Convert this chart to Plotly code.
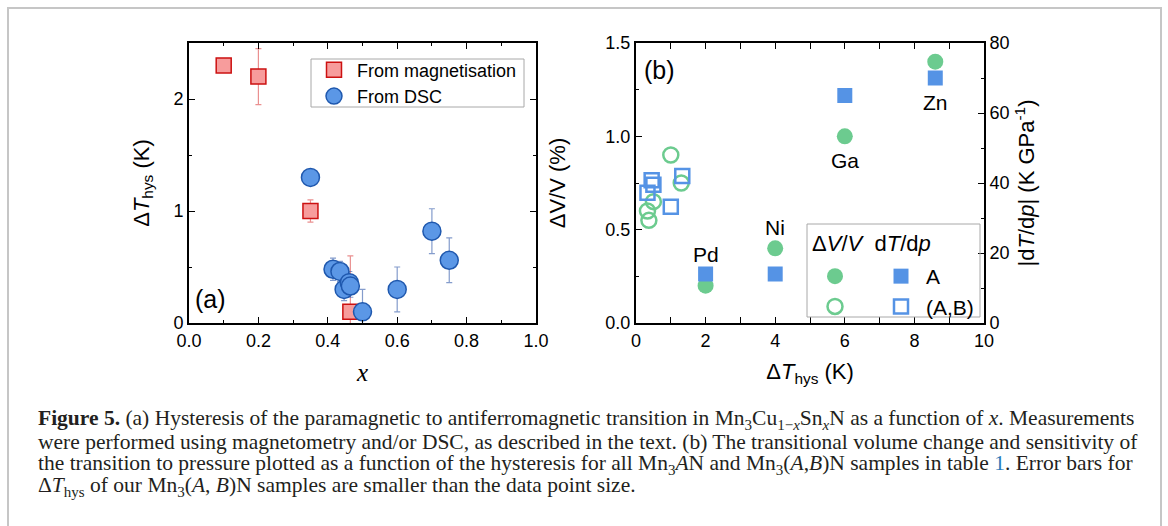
import plotly.graph_objects as go

W, H = 1168, 526
def px(x):
    return x / W
def py(y):
    return 1 - y / H

# ---------------- Panel (a) data ----------------
mag_x = [0.10, 0.20, 0.35, 0.465]
mag_y = [2.30, 2.20, 1.00, 0.10]
mag_err = [0.03, 0.25, 0.10, 0.50]

dsc_x = [0.35, 0.415, 0.435, 0.447, 0.462, 0.465, 0.50, 0.60, 0.70, 0.75]
dsc_y = [1.30, 0.48, 0.46, 0.30, 0.36, 0.33, 0.10, 0.30, 0.82, 0.56]
dsc_err = [0.0, 0.10, 0.09, 0.10, 0.10, 0.10, 0.20, 0.20, 0.20, 0.20]

# ---------------- Panel (b) data ----------------
elem_labels = ["Pd", "Ni", "Ga", "Zn"]
a_dT = [2.0, 4.0, 6.0, 8.6]
a_dV = [0.20, 0.40, 1.00, 1.40]
a_dTdp = [14, 14, 65, 70]

ab_dT_circ = [1.0, 1.3, 0.5, 0.33, 0.37]
ab_dV = [0.90, 0.75, 0.65, 0.60, 0.55]
ab_dT_sq = [0.33, 0.45, 0.50, 1.0, 1.33]
ab_dTdp = [37.2, 40.8, 39.5, 33.2, 42.0]

caption_lines = [
    "<b>Figure 5.</b> (a) Hysteresis of the paramagnetic to antiferromagnetic transition in "
    "Mn<sub>3</sub>Cu<sub>1\u2212<i>x</i></sub>Sn<sub><i>x</i></sub>N as a function of <i>x</i>. Measurements",
    "were performed using magnetometry and/or DSC, as described in the text. (b) The transitional "
    "volume change and sensitivity of",
    "the transition to pressure plotted as a function of the hysteresis for all Mn<sub>3</sub><i>A</i>N "
    "and Mn<sub>3</sub>(<i>A</i>,<i>B</i>)N samples in table <span style='color:#2b7bb9'>1</span>. Error bars for",
    "\u0394<i>T</i><sub>hys</sub> of our Mn<sub>3</sub>(<i>A</i>, <i>B</i>)N samples are smaller than "
    "the data point size.",
]

SANS = "Liberation Sans, Arial, sans-serif"
SERIF = "Liberation Serif, Times New Roman, serif"

RED_FILL = "#F79C9C"
RED_LINE = "#CC1111"
BLUE_FILL = "#5B97E6"
BLUE_LINE = "#1F58AE"
GREEN = "#6CCB8F"
BLUE_B = "#5593E5"

fig = go.Figure()

# Panel (a)
fig.add_trace(go.Scatter(
    x=mag_x, y=mag_y, mode="markers", name="From magnetisation",
    marker=dict(symbol="square", size=15, color=RED_FILL, line=dict(color=RED_LINE, width=1.5)),
    error_y=dict(type="data", array=mag_err, color="rgba(220,70,70,0.6)", thickness=1.2, width=3),
    xaxis="x", yaxis="y", legend="legend",
))
fig.add_trace(go.Scatter(
    x=dsc_x, y=dsc_y, mode="markers", name="From DSC",
    marker=dict(symbol="circle", size=18, color=BLUE_FILL, line=dict(color=BLUE_LINE, width=1.5)),
    error_y=dict(type="data", array=dsc_err, color="rgba(50,90,170,0.6)", thickness=1.2, width=3),
    xaxis="x", yaxis="y", legend="legend",
))

# Panel (b)
fig.add_trace(go.Scatter(
    x=a_dT, y=a_dV, mode="markers", name=" ",
    marker=dict(symbol="circle", size=16, color=GREEN),
    xaxis="x2", yaxis="y2", legend="legend2",
))
fig.add_trace(go.Scatter(
    x=ab_dT_circ, y=ab_dV, mode="markers", name=" ",
    marker=dict(symbol="circle-open", size=15, color=GREEN, line=dict(width=2.5)),
    xaxis="x2", yaxis="y2", legend="legend2",
))
fig.add_trace(go.Scatter(
    x=a_dT, y=a_dTdp, mode="markers", name="A",
    marker=dict(symbol="square", size=15, color=BLUE_B),
    xaxis="x2", yaxis="y3", legend="legend3",
))
fig.add_trace(go.Scatter(
    x=ab_dT_sq, y=ab_dTdp, mode="markers", name="(A,B)",
    marker=dict(symbol="square-open", size=14, color=BLUE_B, line=dict(width=2.5)),
    xaxis="x2", yaxis="y3", legend="legend3",
))

tickfont = dict(family=SANS, size=18, color="black")
titlefont = dict(family=SANS, size=22, color="black")
common = dict(
    showline=True, linecolor="black", linewidth=2, showgrid=False, zeroline=False,
    ticks="inside", ticklen=6, tickwidth=1.2, tickcolor="black", tickfont=tickfont,
)

fig.update_layout(
    width=W, height=H, margin=dict(l=0, r=0, t=0, b=0, autoexpand=False),
    paper_bgcolor="white", plot_bgcolor="white",
    xaxis=dict(domain=[px(189), px(536)], range=[0, 1], dtick=0.2, tickformat=".1f",
               mirror="allticks", anchor="y",
               minor=dict(ticks="inside", dtick=0.1, ticklen=3, tickcolor="black"),
               title=dict(text="<i>x</i>", font=dict(family=SERIF, size=25, color="black"), standoff=14),
               **common),
    yaxis=dict(domain=[py(323), py(43)], range=[0, 2.5], dtick=1, mirror="allticks", anchor="x",
               minor=dict(ticks="inside", dtick=0.5, ticklen=3, tickcolor="black"),
               title=dict(text="\u0394<i>T</i><sub>hys</sub> (K)", font=titlefont, standoff=18),
               **common),
    xaxis2=dict(domain=[px(636), px(984)], range=[0, 10], dtick=2, mirror="allticks", anchor="y2",
                minor=dict(ticks="inside", dtick=1, ticklen=3, tickcolor="black"),
                title=dict(text="\u0394<i>T</i><sub>hys</sub> (K)", font=titlefont, standoff=14),
                **common),
    yaxis2=dict(domain=[py(323), py(43)], range=[0, 1.5], dtick=0.5, tickformat=".1f", anchor="x2",
                mirror=False,
                minor=dict(ticks="inside", dtick=0.25, ticklen=3, tickcolor="black"),
                title=dict(text="\u0394V/V (%)", font=titlefont, standoff=34),
                **common),
    yaxis3=dict(overlaying="y2", side="right", range=[0, 80], dtick=20, anchor="x2",
                minor=dict(ticks="inside", dtick=10, ticklen=3, tickcolor="black"),
                title=dict(text="|d<i>T</i>/d<i>p</i>| (K GPa<sup>-1</sup>)", font=titlefont, standoff=10),
                **common),
    legend=dict(x=px(311), y=py(51.5), xanchor="left", yanchor="top",
                borderwidth=0, bgcolor="rgba(0,0,0,0)",
                font=dict(family=SANS, size=18, color="black"), itemwidth=36,
                tracegroupgap=0),
    legend2=dict(x=px(815), y=py(256), xanchor="left", yanchor="top",
                 bgcolor="rgba(0,0,0,0)", borderwidth=0,
                 font=dict(family=SANS, size=21, color="black"), itemwidth=30),
    legend3=dict(x=px(876), y=py(256), xanchor="left", yanchor="top",
                 bgcolor="rgba(0,0,0,0)", borderwidth=0,
                 font=dict(family=SANS, size=21, color="black"), itemwidth=40),
    showlegend=True,
)

shapes = [
    # outer frame
    dict(type="rect", xref="paper", yref="paper", x0=px(8), x1=px(1161), y0=py(560), y1=py(8),
         line=dict(color="#c6c6c6", width=2), fillcolor="rgba(0,0,0,0)", layer="below"),
    # legend box of panel (a)
    dict(type="rect", xref="paper", yref="paper", x0=px(311), x1=px(524), y0=py(107), y1=py(59),
         line=dict(color="#a8a8a8", width=1), fillcolor="rgba(0,0,0,0)", layer="above"),
    # legend box of panel (b)
    dict(type="rect", xref="paper", yref="paper", x0=px(807), x1=px(980), y0=py(317), y1=py(224),
         line=dict(color="#a8a8a8", width=1), fillcolor="rgba(0,0,0,0)", layer="above"),
]
fig.update_layout(shapes=shapes)

ann = []
# panel labels
ann.append(dict(xref="paper", yref="paper", x=px(193), y=py(299), xanchor="left", yanchor="middle",
                text="(a)", showarrow=False, font=dict(family=SANS, size=25, color="black")))
ann.append(dict(xref="paper", yref="paper", x=px(642), y=py(70), xanchor="left", yanchor="middle",
                text="(b)", showarrow=False, font=dict(family=SANS, size=25, color="black")))
# element labels
shifts = [20, 21, -24, -25]
axes_for = ["y3", "y2", "y2", "y3"]
for lab, xv, yv_dv, yv_tp, sh, ax in zip(elem_labels, a_dT, a_dV, a_dTdp, shifts, axes_for):
    yv = yv_tp if ax == "y3" else yv_dv
    ann.append(dict(xref="x2", yref=ax, x=xv, y=yv, yshift=sh, text=lab, showarrow=False,
                    xanchor="center", yanchor="middle", font=dict(family=SANS, size=21, color="black")))
# legend header of panel (b)
ann.append(dict(xref="paper", yref="paper", x=px(810), y=py(243), xanchor="left", yanchor="middle",
                text="\u0394<i>V</i>/<i>V</i>\u00a0 d<i>T</i>/d<i>p</i>", showarrow=False,
                font=dict(family=SANS, size=22, color="black")))
# caption
for i, line in enumerate(caption_lines):
    ann.append(dict(xref="paper", yref="paper", x=px(36), y=py(419 + 22.5 * i), xanchor="left",
                    yanchor="middle", text=line, showarrow=False,
                    font=dict(family=SERIF, size=21.5, color="#231f20")))
fig.update_layout(annotations=ann)

fig.write_html("out.html")
